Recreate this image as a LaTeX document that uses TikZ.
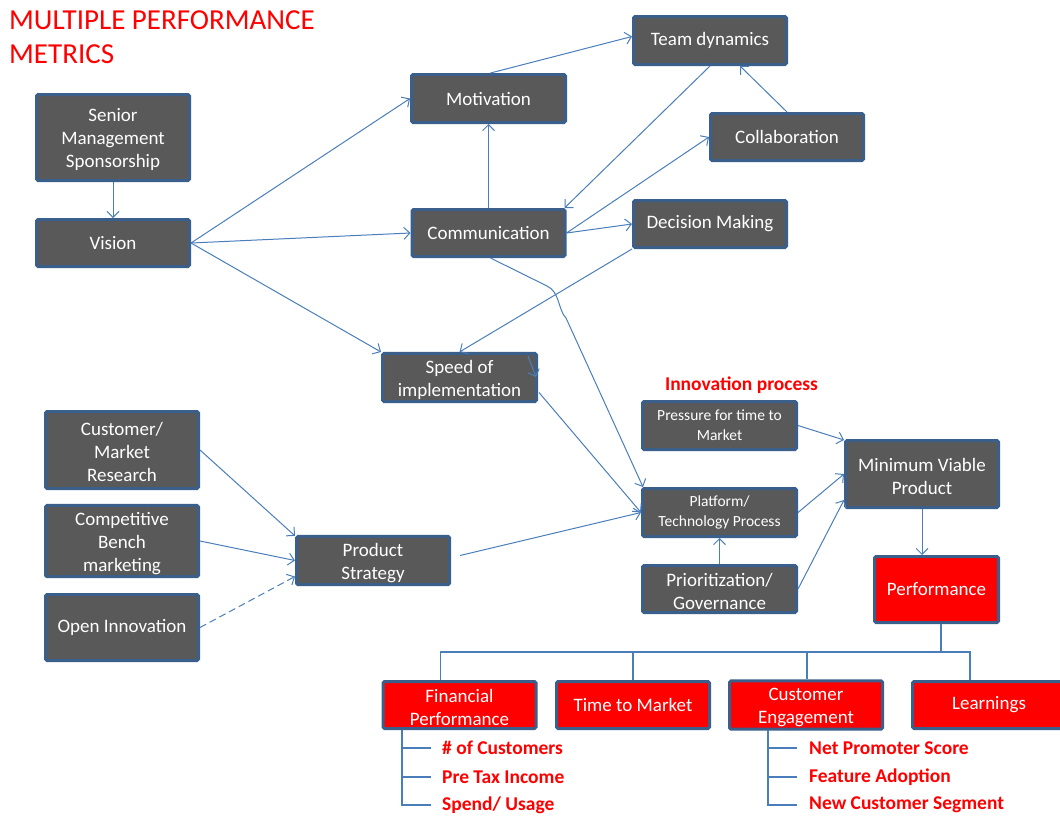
\documentclass[tikz,border=0pt]{standalone}
\usepackage{fontspec}
\setmainfont{Carlito}
\usetikzlibrary{arrows.meta}
\definecolor{boxfill}{HTML}{595959}
\definecolor{boxedge}{HTML}{3A5F8B}
\definecolor{linkblue}{HTML}{4A7EBB}
\definecolor{alert}{HTML}{FF0000}
% tall first line for stacked labels, so they sit a little lower in the box
\newcommand{\firstline}{\rule{0pt}{18pt}}

\begin{document}
\begin{tikzpicture}[x=1pt,y=-1pt,
  box/.style={draw=boxedge, line width=3pt, fill=boxfill, text=white,
    rounded corners=1.5pt, align=center, inner sep=2pt,
    font=\fontsize{19}{23}\selectfont,
    minimum width=153pt, minimum height=47pt},
  redbox/.style={box, fill=alert},
  smalltext/.style={font=\fontsize{15.5}{20}\selectfont},
  link/.style={draw=linkblue, line width=1pt,
    -{Straight Barb[length=6pt,width=12pt,line width=1pt]}},
  dashlink/.style={link, dash pattern=on 7pt off 4pt},
  tree/.style={draw=linkblue, line width=1.2pt},
  metric/.style={anchor=west, text=alert, inner sep=0pt,
    font=\bfseries\fontsize{19.5}{22}\selectfont},
]
\useasboundingbox (0,0) rectangle (1060,817);

% heading
\node[anchor=north west, text=alert, align=left, inner sep=0pt,
  font=\fontsize{29}{34.5}\selectfont] (title) at (9,10)
  {MULTIPLE PERFORMANCE\\METRICS};

% left column
\node[box, minimum height=86pt] (senior) at (113,137.5) {\firstline Senior\\Management\\Sponsorship};
\node[box] (vision) at (113,243) {Vision};

% collaboration cluster
\node[box, minimum width=154pt, minimum height=48pt] (motiv) at (488.5,98.5) {Motivation};
\node[box, minimum height=48pt] (team) at (710,40.5) {Team dynamics};
\node[box] (collab) at (787,137) {Collaboration};
\node[box] (comm) at (488.5,233) {Communication};
\node[box] (decide) at (710,224) {Decision Making};
\node[box, minimum width=154pt, minimum height=48pt] (speed) at (459.5,377.5) {\firstline Speed of\\implementation};

% inputs to product strategy
\node[box, minimum height=77pt] (research) at (122,450) {\firstline Customer/\\Market\\Research};
\node[box, minimum height=67pt] (bench) at (122,541) {\firstline Competitive\\Bench\\marketing};
\node[box, minimum height=66pt] (openinn) at (122,627.5) {Open Innovation};
\node[box, minimum height=48pt] (strategy) at (373,560.5) {\firstline Product\\Strategy};

% innovation process
\node[text=alert, inner sep=0pt, font=\bfseries\fontsize{19.5}{22}\selectfont] (innov) at (741.5,385) {Innovation process};
\node[box, smalltext, minimum width=154pt, minimum height=48pt] (pressure) at (719.5,425.5) {Pressure for time to\\Market};
\node[box, smalltext, minimum width=154pt, minimum height=48pt] (platform) at (719.5,512.5) {Platform/\\Technology Process};
\node[box, minimum width=154pt] (prio) at (719.5,589) {\firstline Prioritization/\\Governance};
\node[box, minimum height=67pt] (mvp) at (922,474) {\firstline Minimum Viable\\Product};
\node[redbox, minimum width=124pt, minimum height=66pt] (perf) at (936.5,589.5) {Performance};

% performance breakdown
\node[redbox] (fin) at (459.5,705) {\firstline Financial\\Performance};
\node[redbox] (ttm) at (633,705) {Time to Market};
\node[redbox] (engage) at (806,705) {\firstline Customer\\Engagement};
\node[redbox] (learn) at (989,705) {Learnings};

\node[metric] (m1) at (442,748) {\# of Customers};
\node[metric] (m2) at (442,777) {Pre Tax Income};
\node[metric] (m3) at (442,805) {Spend/ Usage};
\node[metric] (m4) at (809,748) {Net Promoter Score};
\node[metric] (m5) at (809,777) {Feature Adoption};
\node[metric] (m6) at (809,805) {New Customer Segment};

% connectors (positive yshift moves up on the page)
\draw[link] (senior) -- (vision);
\draw[link] (vision.east) -- (motiv.west);
\draw[link] (vision.east) -- (comm.west);
\draw[link] (vision.east) -- (speed.north west);
\draw[link] ([xshift=2pt]motiv.north) -- ([yshift=4pt]team.west);
\draw[link] (comm.north) -- (motiv.south);
\draw[link] (team.south) -- ([xshift=-2pt]comm.north east);
\draw[link] (comm.east) -- (collab.west);
\draw[link] (collab.north) -- ([xshift=30pt]team.south);
\draw[link] (comm.east) -- (decide.west);
\draw[link] (decide.south west) -- (speed.north);
\coordinate (tipA) at (528,356);
\coordinate (tipB) at (536,377);
\draw[link] (tipA) -- (tipB);
\coordinate (bendA) at (547,286);
\coordinate (bendB) at (566,318);
\draw[link] ([xshift=2pt]comm.south) -- (bendA)
  .. controls (560,292) and (558,310) .. (bendB) -- ([xshift=2pt]platform.north west);
\draw[link] ([xshift=1pt,yshift=-15pt]speed.east) -- (platform.west);
\draw[link] (research.east) -- ([yshift=-1pt]strategy.north west);
\draw[link] (bench.east) -- (strategy.west);
\draw[dashlink] (openinn.east) -- ([yshift=-16pt]strategy.west);
\draw[link] ([xshift=9pt,yshift=5pt]strategy.east) -- (platform.west);
\draw[link] (pressure.east) -- ([yshift=-1pt]mvp.north west);
\draw[link] (platform.east) -- (mvp.west);
\draw[link] (prio.east) -- ([yshift=-26pt]mvp.west);
\draw[link] (prio.north) -- (platform.south);
\draw[link] (mvp.south) -- ([xshift=-14.5pt]perf.north);

% tree below performance
\coordinate (bus) at (0,652);
\draw[tree] ([xshift=4.5pt]perf.south) -- ([xshift=4.5pt]perf.south |- bus);
\draw[tree] ([xshift=-19pt]fin.north) -- ([xshift=-19pt]fin.north |- bus)
  -- ([xshift=-19pt]learn.north |- bus) -- ([xshift=-19pt]learn.north);
\draw[tree] (ttm.north) -- (ttm.north |- bus);
\draw[tree] ([xshift=1pt]engage.north) -- ([xshift=1pt]engage.north |- bus);

\coordinate (finstem) at (402,730);
\coordinate (engstem) at (768,730);
\draw[tree] (finstem) |- ([xshift=-11pt]m3.west);
\draw[tree] (finstem |- m1) -- ([xshift=-11pt]m1.west);
\draw[tree] (finstem |- m2) -- ([xshift=-11pt]m2.west);
\draw[tree] (engstem) |- ([xshift=-12pt]m6.west);
\draw[tree] (engstem |- m4) -- ([xshift=-12pt]m4.west);
\draw[tree] (engstem |- m5) -- ([xshift=-12pt]m5.west);
\end{tikzpicture}
\end{document}
